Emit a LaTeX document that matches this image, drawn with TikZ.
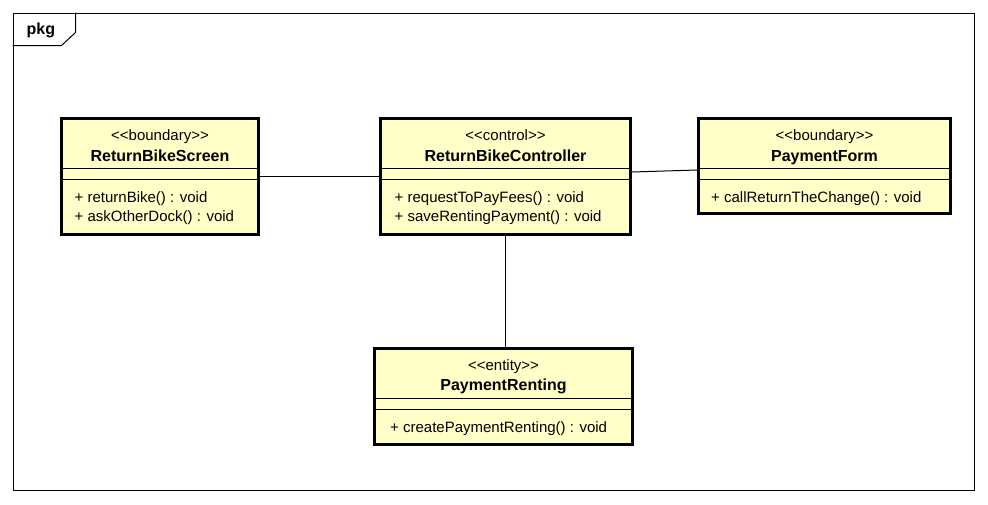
\documentclass[tikz,border=0pt]{standalone}
\usepackage{fontspec}
\setmainfont{Liberation Sans}
\usepackage{xcolor}
\usepackage{tikz}
\definecolor{classfill}{RGB}{255,255,200}
\tikzset{
pkgframe/.style={
  draw,
  line width=1pt,
  rectangle,
  inner sep=0pt
},
umlclass/.style={
  draw,
  line width=3pt,
  fill=classfill,
  rectangle,
  inner sep=0pt
},
stereo/.style={font=\fontsize{15}{17}\selectfont,inner sep=0pt,anchor=base},
clsname/.style={font=\fontsize{16}{18}\selectfont\bfseries,inner sep=0pt,anchor=base},
member/.style={font=\fontsize{15}{17}\selectfont,inner sep=0pt,anchor=base west},
assoc/.style={line width=1pt}
}

\begin{document}
\begin{tikzpicture}[x=1pt,y=-1pt]
\useasboundingbox (0,0) rectangle (988,504);
% the package frame
\node[pkgframe,minimum width=961pt,minimum height=477pt] (pkg) at (493.5,251.5) {};
\draw[line width=1pt] ([xshift=63pt]pkg.north west) -- ++(0,20) -- ++(-14,13)
  -- ([yshift=-33pt]pkg.north west);
\node[clsname,anchor=base west] (pkglabel) at ([xshift=14pt,yshift=-22pt]pkg.north west) {pkg};

% the classes
\node[umlclass,minimum width=197pt,minimum height=116pt] (screen) at (160,176.5) {};
\node[umlclass,minimum width=250pt,minimum height=116pt] (ctrl) at (505.5,176.5) {};
\node[umlclass,minimum width=252pt,minimum height=95pt] (form) at (824.5,166) {};
\node[umlclass,minimum width=258pt,minimum height=96pt] (renting) at (503.5,396.5) {};

% the compartment rules
\foreach \c in {screen,ctrl,form,renting}
{
  \draw[line width=1pt]
    ([yshift=-51.5pt]\c.north west) -- ([yshift=-51.5pt]\c.north east);
  \draw[line width=1pt]
    ([yshift=-62pt]\c.north west) -- ([yshift=-62pt]\c.north east);
}

% the names
\node[stereo] (screen-st) at ([yshift=-23pt]screen.north) {<{}<boundary>{}>};
\node[clsname] (screen-nm) at ([yshift=-44pt]screen.north) {ReturnBikeScreen};
\node[stereo] (ctrl-st) at ([yshift=-23pt]ctrl.north) {<{}<control>{}>};
\node[clsname] (ctrl-nm) at ([yshift=-44pt]ctrl.north) {ReturnBikeController};
\node[stereo] (form-st) at ([yshift=-23pt]form.north) {<{}<boundary>{}>};
\node[clsname] (form-nm) at ([yshift=-44pt]form.north) {PaymentForm};
\node[stereo] (renting-st) at ([yshift=-23pt]renting.north) {<{}<entity>{}>};
\node[clsname] (renting-nm) at ([yshift=-43.5pt]renting.north) {PaymentRenting};

% the operations
\node[member] (screen-op1) at ([xshift=14.5pt,yshift=-85pt]screen.north west) {+ returnBike() : void};
\node[member] (screen-op2) at ([xshift=14.5pt,yshift=-104pt]screen.north west) {+ askOtherDock() : void};
\node[member] (ctrl-op1) at ([xshift=15.5pt,yshift=-85pt]ctrl.north west) {+ requestToPayFees() : void};
\node[member] (ctrl-op2) at ([xshift=15.5pt,yshift=-104pt]ctrl.north west) {+ saveRentingPayment() : void};
\node[member] (form-op1) at ([xshift=14pt,yshift=-85pt]form.north west) {+ callReturnTheChange() : void};
\node[member] (renting-op1) at ([xshift=17pt,yshift=-85pt]renting.north west) {+ createPaymentRenting() : void};

% the associations
\draw[assoc] (screen.east) -- (ctrl.west);
\draw[assoc] ([yshift=4.5pt]ctrl.east) -- ([yshift=-4pt]form.west);
\draw[assoc] ([xshift=-0.5pt]ctrl.south) -- ([xshift=-0.5pt]ctrl.south |- renting.north);
\end{tikzpicture}
\end{document}
